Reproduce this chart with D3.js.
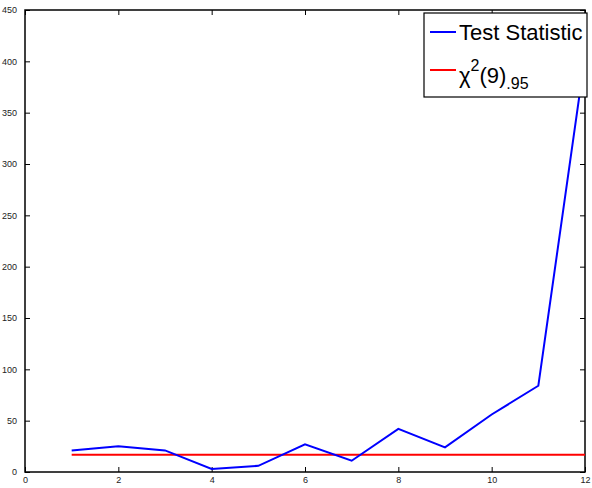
<!DOCTYPE html>
<html>
<head>
<meta charset="utf-8">
<script src="https://cdn.jsdelivr.net/npm/d3@7"></script>
<style>
  body { margin: 0; background: #fff; }
  text { font-family: 'Liberation Sans', Arial, sans-serif; }
</style>
</head>
<body>
<div id="chart"></div>
<script>
// data
let steps = [1, 2, 3, 4, 5, 6, 7, 8, 9, 10, 11, 12]
let testStat = [21, 25, 21, 3, 6, 27, 11, 42, 24, 56, 84, 405]
let critical = 16.92
let xTicks = [0, 2, 4, 6, 8, 10, 12]
let yTicks = [0, 50, 100, 150, 200, 250, 300, 350, 400, 450]

let margin = { top: 10, left: 25, right: 7, bottom: 16 }
let width = 592 - margin.left - margin.right
let height = 488 - margin.top - margin.bottom

let svg = d3
  .select('#chart')
  .append('svg')
  .attr('width', 592)
  .attr('height', 488)
  .append('g')
  .attr('transform', 'translate(' + margin.left + ',' + margin.top + ')')

let x = d3.scaleLinear().domain([0, 12]).range([0, width])
let y = d3.scaleLinear().domain([0, 450]).range([height, 0])

// ticks on all four sides, pointing inward
function styleAxis(g) {
  g.select('.domain').remove()
  g.selectAll('line').attr('stroke', '#000').attr('stroke-width', 1)
  g.selectAll('text').attr('font-size', 9).attr('fill', '#222')
}

svg.append('g')
  .attr('transform', 'translate(0,' + height + ')')
  .call(d3.axisBottom(x).tickValues(xTicks).tickSizeInner(-5).tickSizeOuter(0).tickPadding(5))
  .call(styleAxis)
svg.append('g')
  .call(d3.axisTop(x).tickValues(xTicks).tickSizeInner(-5).tickSizeOuter(0).tickFormat(''))
  .call(styleAxis)
svg.append('g')
  .call(d3.axisLeft(y).tickValues(yTicks).tickSizeInner(-5).tickSizeOuter(0).tickPadding(8))
  .call(styleAxis)
svg.append('g')
  .attr('transform', 'translate(' + width + ',0)')
  .call(d3.axisRight(y).tickValues(yTicks).tickSizeInner(-5).tickSizeOuter(0).tickFormat(''))
  .call(styleAxis)

svg.append('rect')
  .attr('width', width)
  .attr('height', height)
  .attr('fill', 'none')
  .attr('stroke', '#000')
  .attr('stroke-width', 1.5)

let line = d3.line()
  .x((d, i) => x(steps[i]))
  .y(d => y(d))

svg.append('line')
  .attr('x1', x(steps[0]))
  .attr('x2', x(steps[steps.length - 1]))
  .attr('y1', y(critical))
  .attr('y2', y(critical))
  .attr('stroke', '#ff0000')
  .attr('stroke-width', 2)

svg.append('path')
  .datum(testStat)
  .attr('d', line)
  .attr('fill', 'none')
  .attr('stroke', '#0000ff')
  .attr('stroke-width', 2)

// legend
let legend = svg.append('g').attr('transform', 'translate(399,3)')
legend.append('rect')
  .attr('width', 163)
  .attr('height', 84)
  .attr('fill', '#fff')
  .attr('stroke', '#000')
  .attr('stroke-width', 1.2)

legend.append('line')
  .attr('x1', 6).attr('x2', 32).attr('y1', 19).attr('y2', 19)
  .attr('stroke', '#0000ff').attr('stroke-width', 2)
legend.append('text')
  .attr('x', 35).attr('y', 26.5)
  .attr('font-size', 22)
  .text('Test Statistic')

legend.append('line')
  .attr('x1', 6).attr('x2', 32).attr('y1', 57).attr('y2', 57)
  .attr('stroke', '#ff0000').attr('stroke-width', 2)
let chi = legend.append('text')
  .attr('x', 35).attr('y', 70)
  .attr('font-size', 22)
chi.append('tspan').text('χ')
chi.append('tspan').attr('dy', -12).attr('font-size', 16).text('2')
chi.append('tspan').attr('dy', 12).text('(9)')
chi.append('tspan').attr('dy', 6).attr('font-size', 16).text('.95')
</script>
</body>
</html>
